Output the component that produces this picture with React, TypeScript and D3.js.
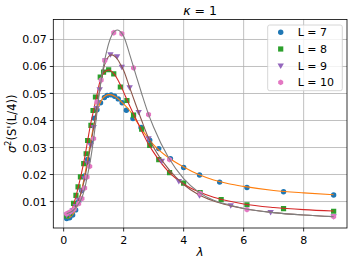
import React from "react";
import * as d3 from "d3";

// ---------- data ----------
const seriesNames = ["L = 7", "L = 8", "L = 9", "L = 10"];
const xTicks = [0, 2, 4, 6, 8];
const yTicks = [0.01, 0.02, 0.03, 0.04, 0.05, 0.06, 0.07];

// fitted-curve sample positions (shared)
const curveLambda = [
  0.1, 0.2, 0.3, 0.4, 0.5, 0.6, 0.7, 0.8, 0.9, 1.0, 1.1, 1.2, 1.3, 1.4, 1.5,
  1.6, 1.7, 1.8, 1.9, 2.0, 2.2, 2.4, 2.6, 2.8, 3.0, 3.5, 4.0, 4.5, 5.0, 5.5,
  6.0, 7.0, 8.0, 9.0,
];
const curveL7 = [
  0.0038, 0.0041, 0.0051, 0.0070, 0.0100, 0.0142, 0.0196, 0.0258, 0.0322,
  0.0380, 0.0428, 0.0461, 0.0482, 0.0492, 0.0496, 0.0495, 0.0490, 0.0482,
  0.0472, 0.0461, 0.0437, 0.0402, 0.0368, 0.0337, 0.0310, 0.0262, 0.0228,
  0.0200, 0.0180, 0.0166, 0.0156, 0.0141, 0.0132, 0.0125,
];
const curveL8 = [
  0.0048, 0.0055, 0.0078, 0.0115, 0.0160, 0.0208, 0.0262, 0.0325, 0.0388,
  0.0438, 0.0490, 0.0540, 0.0570, 0.0583, 0.0587, 0.0582, 0.0570, 0.0552,
  0.0530, 0.0505, 0.0455, 0.0408, 0.0362, 0.0318, 0.0282, 0.0210, 0.0165,
  0.0136, 0.0116, 0.0102, 0.0091, 0.0078, 0.0070, 0.0065,
];
const curveL9 = [
  0.0050, 0.0055, 0.0067, 0.0083, 0.0106, 0.0140, 0.0185, 0.0242, 0.0308,
  0.0375, 0.0445, 0.0515, 0.0578, 0.0618, 0.0637, 0.0643, 0.0638, 0.0626,
  0.0607, 0.0585, 0.0522, 0.0460, 0.0400, 0.0343, 0.0300, 0.0220, 0.0163,
  0.0125, 0.0102, 0.0086, 0.0074, 0.0059, 0.0050, 0.0044,
];
const curveL10 = [
  0.0055, 0.0059, 0.0066, 0.0077, 0.0092, 0.0112, 0.0148, 0.0200, 0.0258,
  0.0333, 0.0420, 0.0510, 0.0585, 0.0640, 0.0685, 0.0715, 0.0731, 0.0735,
  0.0728, 0.0712, 0.0645, 0.0572, 0.0500, 0.0432, 0.0375, 0.0262, 0.0185,
  0.0135, 0.0105, 0.0088, 0.0074, 0.0059, 0.0050, 0.0044,
];

// measured points
const ptLambdaL7 = [
  0.1, 0.2, 0.3, 0.4, 0.5, 0.6, 0.7, 0.8, 0.9, 1.02, 1.11, 1.23, 1.36, 1.45,
  1.58, 1.7, 1.82, 1.95, 2.09, 2.31, 2.58, 2.87, 3.17, 3.56, 4.0, 4.53, 5.2,
  6.11, 7.33, 9.0,
];
const ptValueL7 = [
  0.0037, 0.0040, 0.0050, 0.0069, 0.0099, 0.0141, 0.0195, 0.0256, 0.0320,
  0.0409, 0.0440, 0.0466, 0.0485, 0.0493, 0.0495, 0.0490, 0.0480, 0.0466,
  0.0438, 0.0407, 0.0374, 0.0327, 0.0296, 0.0259, 0.0226, 0.0198, 0.0172,
  0.0152, 0.0136, 0.0124,
];
const ptLambdaL8 = [
  0.1, 0.2, 0.33, 0.41, 0.48, 0.56, 0.67, 0.75, 0.8, 0.91, 0.98, 1.06, 1.22,
  1.33, 1.5, 1.67, 1.89, 2.11, 2.33, 2.6, 2.87, 3.17, 3.53, 4.0, 4.55, 5.25,
  6.11, 7.33, 9.0,
];
const ptValueL8 = [
  0.0047, 0.0056, 0.0093, 0.0123, 0.0154, 0.0191, 0.0240, 0.0277, 0.0326,
  0.0382, 0.0437, 0.0487, 0.0561, 0.0579, 0.0588, 0.0573, 0.0524, 0.0474,
  0.0420, 0.0368, 0.0308, 0.0255, 0.0207, 0.0168, 0.0133, 0.0107, 0.0088,
  0.0074, 0.0064,
];
const ptLambdaL9 = [
  0.1, 0.2, 0.3, 0.4, 0.5, 0.6, 0.7, 0.8, 0.9, 1.0, 1.1, 1.2, 1.39, 1.56,
  1.78, 1.94, 2.2, 2.5, 2.83, 3.27, 3.84, 4.53, 5.57, 6.9, 9.0,
];
const ptValueL9 = [
  0.0050, 0.0055, 0.0067, 0.0083, 0.0106, 0.0140, 0.0185, 0.0242, 0.0308,
  0.0375, 0.0445, 0.0515, 0.0622, 0.0644, 0.0637, 0.0598, 0.0522, 0.0431,
  0.0333, 0.0250, 0.0175, 0.0122, 0.0085, 0.0060, 0.0045,
];
const ptLambdaL10 = [
  0.1, 0.22, 0.35, 0.5, 0.61, 0.7, 0.78, 0.87, 1.0, 1.11, 1.25, 1.37, 1.67,
  1.94, 2.33, 2.83, 3.53, 4.55, 6.11, 9.0,
];
const ptValueL10 = [
  0.0055, 0.0062, 0.0072, 0.0092, 0.0111, 0.0150, 0.0191, 0.0230, 0.0333,
  0.0469, 0.0550, 0.0622, 0.0725, 0.0721, 0.0595, 0.0422, 0.0255, 0.0130,
  0.0070, 0.0044,
];

const curves = [curveL7, curveL8, curveL9, curveL10];
const ptLambdas = [ptLambdaL7, ptLambdaL8, ptLambdaL9, ptLambdaL10];
const ptValues = [ptValueL7, ptValueL8, ptValueL9, ptValueL10];

const markerColors = ["#1f77b4", "#2ca02c", "#9467bd", "#e377c2"];
const lineColors = ["#ff7f0e", "#d62728", "#8c564b", "#7f7f7f"];

// ---------- layout ----------
const W = 355;
const H = 265;
const left = 53.3;
const right = 347;
const top = 19.5;
const bottom = 228;

function markerPath(kind: number, cx: number, cy: number): string {
  if (kind === 0) {
    const r = 2.7;
    return `M${cx - r},${cy}a${r},${r} 0 1,0 ${2 * r},0a${r},${r} 0 1,0 ${-2 * r},0Z`;
  }
  if (kind === 1) {
    const s = 2.6;
    return `M${cx - s},${cy - s}H${cx + s}V${cy + s}H${cx - s}Z`;
  }
  if (kind === 2) {
    const s = 3.2;
    return `M${cx - s},${cy - s * 0.7}L${cx + s},${cy - s * 0.7}L${cx},${cy + s * 1.0}Z`;
  }
  const r = 2.9;
  let d = "";
  for (let i = 0; i < 6; i++) {
    const a = (Math.PI / 3) * i + Math.PI / 2;
    d += (i === 0 ? "M" : "L") + (cx + r * Math.cos(a)) + "," + (cy - r * Math.sin(a));
  }
  return d + "Z";
}

export default function App() {
  const x = d3.scaleLinear().domain([-0.345, 9.445]).range([left, right]);
  const y = d3.scaleLinear().domain([0.0002, 0.0774]).range([bottom, top]);
  const line = d3
    .line<number>()
    .x((_, i) => x(curveLambda[i]))
    .y((d) => y(d))
    .curve(d3.curveMonotoneX);

  const font = "DejaVu Sans, sans-serif";

  return (
    <svg
      width={W}
      height={H}
      style={{ position: "absolute", left: 0, top: 0, background: "#fff" }}
      fontFamily={font}
    >
      <rect x={0} y={0} width={W} height={H} fill="#fff" />
      {/* grid */}
      {xTicks.map((t) => (
        <line key={"gx" + t} x1={x(t)} x2={x(t)} y1={top} y2={bottom} stroke="#b0b0b0" strokeWidth={0.8} />
      ))}
      {yTicks.map((t) => (
        <line key={"gy" + t} x1={left} x2={right} y1={y(t)} y2={y(t)} stroke="#b0b0b0" strokeWidth={0.8} />
      ))}
      {/* data */}
      <defs>
        <clipPath id="plotclip">
          <rect x={left} y={top} width={right - left} height={bottom - top} />
        </clipPath>
      </defs>
      <g clipPath="url(#plotclip)">
        {curves.map((c, k) => (
          <g key={"s" + k}>
            {ptLambdas[k].map((l, i) => (
              <path key={i} d={markerPath(k, x(l), y(ptValues[k][i]))} fill={markerColors[k]} />
            ))}
            <path d={line(c) || ""} fill="none" stroke={lineColors[k]} strokeWidth={1.1} />
          </g>
        ))}
      </g>
      {/* spines */}
      <rect x={left} y={top} width={right - left} height={bottom - top} fill="none" stroke="#000" strokeWidth={0.8} />
      {/* x ticks */}
      {xTicks.map((t) => (
        <g key={"xt" + t}>
          <line x1={x(t)} x2={x(t)} y1={bottom} y2={bottom + 3.5} stroke="#000" strokeWidth={0.8} />
          <text x={x(t)} y={244.3} fontSize={11} textAnchor="middle" fill="#000">
            {t}
          </text>
        </g>
      ))}
      {/* y ticks */}
      {yTicks.map((t) => (
        <g key={"yt" + t}>
          <line x1={left - 3.5} x2={left} y1={y(t)} y2={y(t)} stroke="#000" strokeWidth={0.8} />
          <text x={46.7} y={y(t) + 4} fontSize={11} textAnchor="end" fill="#000">
            {d3.format(".2f")(t)}
          </text>
        </g>
      ))}
      {/* labels */}
      <text x={(left + right) / 2} y={256} fontSize={12} textAnchor="middle" fontStyle="italic" fill="#000">
        λ
      </text>
      <text
        transform={`translate(15.5,${(top + bottom) / 2}) rotate(-90)`}
        fontSize={11.5}
        textAnchor="middle"
        fill="#000"
      >
        <tspan fontStyle="italic">σ</tspan>
        <tspan fontSize={8} dy={-4.5}>2</tspan>
        <tspan dy={4.5}>(S'(L/4))</tspan>
      </text>
      <text x={(left + right) / 2} y={15} fontSize={12.5} textAnchor="middle" fill="#000">
        <tspan fontStyle="italic">κ</tspan>
        <tspan> = 1</tspan>
      </text>
      {/* legend */}
      <rect x={267.7} y={25} width={74.6} height={65.7} rx={2} fill="#fff" fillOpacity={0.8} stroke="#cccccc" strokeWidth={0.8} />
      {seriesNames.map((n, k) => {
        const cy = 32.3 + k * 16.7;
        return (
          <g key={"lg" + k}>
            <path d={markerPath(k, 280.7, cy)} fill={markerColors[k]} />
            <text x={297.7} y={cy + 4} fontSize={11} fill="#000">
              {n}
            </text>
          </g>
        );
      })}
    </svg>
  );
}
